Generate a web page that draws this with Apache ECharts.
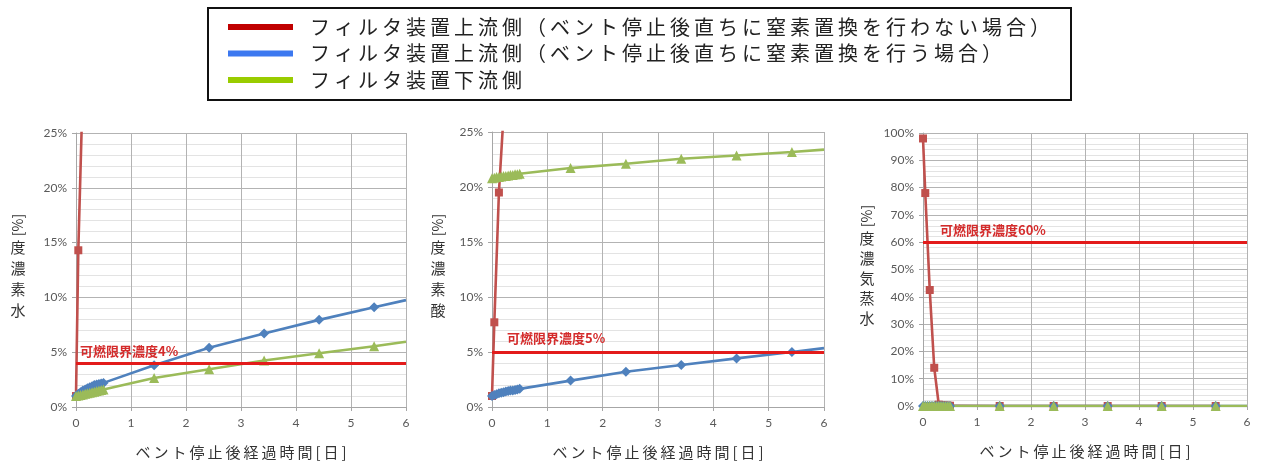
<!DOCTYPE html>
<html><head><meta charset="utf-8">
<script src="https://cdn.jsdelivr.net/npm/echarts@6/dist/echarts.min.js"></script>
<style>html,body{margin:0;padding:0;background:#fff}#c{width:1264px;height:466px}</style>
</head><body><div id="c"></div>
<script>
// ---- data ----
const seriesNames = [
  'フィルタ装置上流側（ベント停止後直ちに窒素置換を行わない場合）',
  'フィルタ装置上流側（ベント停止後直ちに窒素置換を行う場合）',
  'フィルタ装置下流側'
];
const xTicks = [0, 1, 2, 3, 4, 5, 6];
const tAll = [0, 0.042, 0.083, 0.125, 0.167, 0.208, 0.25, 0.292, 0.333, 0.375, 0.417, 0.458, 0.5, 1.42, 2.42, 3.42, 4.42, 5.42, 6];

// 水素濃度
const h2RedT = [0, 0.042, 0.125];
const h2Red = [1.0, 14.3, 29.5];
const h2Blue = [1.0, 1.2, 1.35, 1.5, 1.6, 1.7, 1.8, 1.9, 2.0, 2.05, 2.1, 2.15, 2.2, 3.8, 5.4, 6.7, 7.95, 9.1, 9.75];
const h2Green = [1.0, 1.05, 1.1, 1.15, 1.2, 1.25, 1.3, 1.35, 1.4, 1.45, 1.5, 1.55, 1.6, 2.65, 3.45, 4.25, 4.9, 5.55, 5.95];

// 酸素濃度
const o2RedT = [0, 0.042, 0.125, 0.208];
const o2Red = [1.0, 7.7, 19.5, 26.5];
const o2Blue = [1.0, 1.1, 1.15, 1.25, 1.3, 1.35, 1.4, 1.45, 1.5, 1.5, 1.55, 1.6, 1.65, 2.4, 3.2, 3.82, 4.42, 5.0, 5.35];
const o2Green = [20.8, 20.85, 20.9, 20.9, 20.95, 21.0, 21.0, 21.05, 21.1, 21.1, 21.15, 21.15, 21.2, 21.72, 22.12, 22.57, 22.87, 23.18, 23.4];

// 水蒸気濃度
const stRedT = [0, 0.042, 0.125, 0.208, 0.292, 0.333, 0.375, 0.417, 0.458, 0.5, 1.42, 2.42, 3.42, 4.42, 5.42];
const stRed = [98, 78, 42.5, 14, 0.5, 0.3, 0.2, 0.1, 0.1, 0.1, 0, 0, 0, 0, 0];
const stBlue = [0, 0, 0, 0, 0, 0, 0, 0, 0, 0, 0, 0, 0, 0, 0, 0, 0, 0, 0];
const stGreen = [0, 0, 0, 0, 0, 0, 0, 0, 0, 0, 0, 0, 0, 0, 0, 0, 0, 0, 0];

const thresholds = [4, 5, 60];
const thresholdLabels = ['可燃限界濃度4%', '可燃限界濃度5%', '可燃限界濃度60%'];
const yNames = [['水', '素', '濃', '度'], ['酸', '素', '濃', '度'], ['水', '蒸', '気', '濃', '度']];
const yUnit = '[%]';
const xName = 'ベント停止後経過時間[日]';
const yMax = [25, 25, 100];
const yInterval = [5, 5, 10];

// ---- build ----
const SP = '\u2009';
const spaced = s => s.split('').join(SP);
const redC = '#c0504d', blueC = '#4f81bd', greenC = '#9bbb59';
const grids = [
  {left: 76, top: 133, width: 330, height: 274},
  {left: 492, top: 132, width: 332, height: 275},
  {left: 923, top: 133, width: 324, height: 273}
];
const tickFont = {color: '#595959', fontSize: 12, fontFamily: 'Lato, "Open Sans", sans-serif'};

const xAxes = grids.map((g, i) => ({
  gridIndex: i, type: 'value', min: 0, max: 6, interval: 1,
  name: spaced(xName), nameLocation: 'middle', nameGap: 38,
  nameTextStyle: {fontSize: 15, color: '#333', fontFamily: '"Noto Sans CJK JP"'},
  axisLine: {show: true, onZero: false, lineStyle: {color: '#a6a6a6', width: 1}},
  axisTick: {show: true, length: 4, lineStyle: {color: '#a6a6a6'}},
  axisLabel: Object.assign({margin: 10}, tickFont),
  splitLine: {show: true, lineStyle: {color: '#b3b3b3', width: 1}}
}));
const unitGap = [51, 47, 49];
const unitShift = [90, 89, 107];
const yAxes = grids.map((g, i) => ({
  gridIndex: i, type: 'value', min: 0, max: yMax[i], interval: yInterval[i],
  name: yUnit, nameLocation: 'middle', nameRotate: 90, nameGap: unitGap[i],
  nameTextStyle: {fontSize: 14, color: '#333', fontFamily: '"Noto Sans CJK JP"', padding: [0, 0, 0, unitShift[i]]},
  axisLine: {show: true, lineStyle: {color: '#a6a6a6', width: 1}},
  axisTick: {show: true, length: 4, lineStyle: {color: '#a6a6a6'}},
  axisLabel: Object.assign({margin: 9, formatter: '{value}%'}, tickFont),
  splitLine: {show: true, lineStyle: {color: '#b3b3b3', width: 1}},
  minorTick: {show: false, splitNumber: 5},
  minorSplitLine: {show: true, lineStyle: {color: '#e3e3e3', width: 1}}
}));

function pts(ts, vs, lastNoSymbol) {
  return ts.map((t, k) => {
    const it = {value: [t, vs[k]]};
    if (lastNoSymbol && k === ts.length - 1) it.symbol = 'none';
    return it;
  });
}
function lineSeries(i, name, color, symbol, size, data) {
  return {
    type: 'line', name, xAxisIndex: i, yAxisIndex: i, data,
    symbol, symbolSize: size, clip: true, animation: false,
    lineStyle: {color, width: 2.6}, itemStyle: {color}
  };
}
const sets = [
  {redT: h2RedT, red: h2Red, blue: h2Blue, green: h2Green},
  {redT: o2RedT, red: o2Red, blue: o2Blue, green: o2Green},
  {redT: stRedT, red: stRed, blue: stBlue, green: stGreen}
];
const labelDist = [[4, 6], [15, 7], [17, 6]];
const series = [];
sets.forEach((s, i) => {
  series.push(lineSeries(i, seriesNames[0], redC, 'rect', 8, pts(s.redT, s.red, false)));
  series.push(lineSeries(i, seriesNames[1], blueC, 'diamond', 10, pts(tAll, s.blue, true)));
  series.push(lineSeries(i, seriesNames[2], greenC, 'triangle', 10, pts(tAll, s.green, true)));
  series.push({
    type: 'line', name: 'thr' + i, xAxisIndex: i, yAxisIndex: i, data: [], animation: false,
    markLine: {
      silent: true, symbol: ['none', 'none'], animation: false,
      data: [{yAxis: thresholds[i]}],
      lineStyle: {color: '#e31b1b', width: 3, type: 'solid'},
      label: {show: true, position: 'insideStartTop', formatter: thresholdLabels[i],
        color: '#d42b2b', fontWeight: 'bold', fontSize: 13, fontFamily: '"Noto Sans CJK JP"',
        distance: labelDist[i]}
    }
  });
});

// y-axis names (upright CJK stacked)
const yNameX = [18, 438, 867];
const yNameBottom = [310, 310, 318];
const yNameStep = [21, 21, 20];
const graphic = [{
  type: 'rect', shape: {x: 208, y: 8, width: 863, height: 92},
  style: {fill: 'none', stroke: '#111', lineWidth: 2}, silent: true
}];
yNames.forEach((chars, i) => {
  chars.forEach((ch, k) => {
    graphic.push({type: 'text', x: yNameX[i], y: yNameBottom[i] - k * yNameStep[i],
      style: {text: ch, font: '15px "Noto Sans CJK JP"', fill: '#333', align: 'center', verticalAlign: 'middle'}});
  });
});

const legendColors = ['#c00000', '#3c78f0', '#99cc00'];
const chart = echarts.init(document.getElementById('c'));
chart.setOption({
  animation: false,
  grid: grids,
  xAxis: xAxes,
  yAxis: yAxes,
  series,
  graphic,
  legend: {
    orient: 'vertical', left: 223, top: 12, itemWidth: 65, itemHeight: 6, itemGap: 6.5,
    icon: 'rect', selectedMode: false,
    data: seriesNames.map((n, k) => ({name: n, icon: 'rect', itemStyle: {color: legendColors[k]}})),
    formatter: n => spaced(n),
    textStyle: {fontSize: 20, lineHeight: 20, color: '#222', fontFamily: '"Noto Sans CJK JP"', padding: [0, 0, 0, 12]}
  }
});
</script></body></html>
